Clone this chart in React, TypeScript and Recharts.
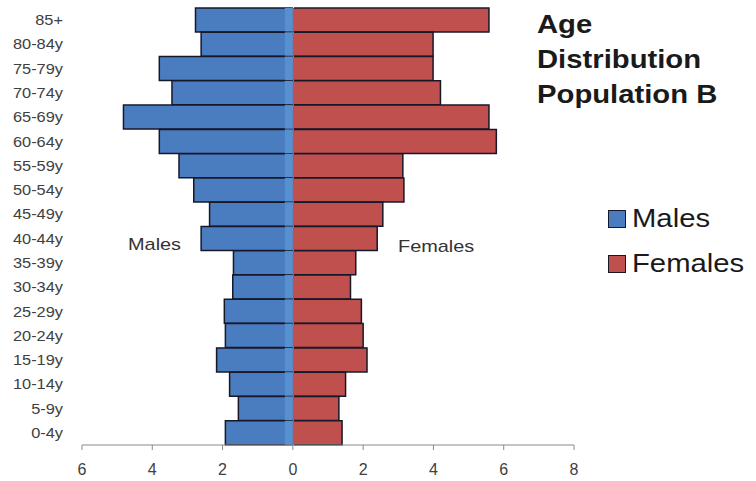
import React from 'react'
import { Bar, BarChart, Legend, XAxis, YAxis } from 'recharts'

const AGE_GROUPS = [
  '85+', '80-84y', '75-79y', '70-74y', '65-69y', '60-64y', '55-59y', '50-54y', '45-49y',
  '40-44y', '35-39y', '30-34y', '25-29y', '20-24y', '15-19y', '10-14y', '5-9y', '0-4y',
]
const MALES = [2.77, 2.61, 3.8, 3.44, 4.82, 3.8, 3.24, 2.82, 2.37, 2.61, 1.69, 1.71, 1.95, 1.92, 2.17, 1.8, 1.55, 1.92]
const FEMALES = [5.58, 3.99, 3.99, 4.2, 5.58, 5.79, 3.13, 3.16, 2.56, 2.4, 1.79, 1.64, 1.95, 2.0, 2.11, 1.5, 1.31, 1.4]
const X_TICKS = [-6, -4, -2, 0, 2, 4, 6, 8]
const SERIES_NAMES = ['Males', 'Females']
const TITLE_LINES = ['Age', 'Distribution', 'Population B']

const BLUE = '#4a7dbf'
const STRIP = '#5690d0'
const RED = '#c0504d'
const EDGE = '#17172a'
const FONT = '"Liberation Sans", Arial, sans-serif'
const STRETCH = 1.17

const data = AGE_GROUPS.map((age, i) => ({ age, males: -MALES[i], females: FEMALES[i] }))

function box(p: any) {
  const left = Math.min(p.x, p.x + p.width)
  const top = Math.min(p.y, p.y + p.height)
  return { left, top, right: left + Math.abs(p.width), bottom: top + Math.abs(p.height) }
}

function MaleBar(props: any) {
  const { left, top, right, bottom } = box(props)
  return (
    <g>
      <rect x={left} y={top} width={right - left} height={bottom - top} fill={BLUE} />
      <path d={`M${right},${top}H${left}V${bottom}H${right}`} fill="none" stroke={EDGE} strokeWidth={1.5} />
      <rect x={right - 8} y={top} width={8} height={bottom - top} fill={STRIP} />
    </g>
  )
}

function FemaleBar(props: any) {
  const { left, top, right, bottom } = box(props)
  return (
    <g>
      <rect x={left} y={top} width={right - left} height={bottom - top} fill={RED} />
      <path d={`M${left + 1},${top}H${right}V${bottom}H${left + 1}`} fill="none" stroke={EDGE} strokeWidth={1.5} />
    </g>
  )
}

function AgeTick({ x, y, payload }: any) {
  return (
    <text
      x={x}
      y={y}
      textAnchor="end"
      dominantBaseline="central"
      fontSize={14}
      fontFamily={FONT}
      fill="#404040"
      transform={`translate(${x} ${y}) scale(${STRETCH} 1) translate(${-x} ${-y})`}
    >
      {payload.value}
    </text>
  )
}

function LegendBox({ payload }: any) {
  const items = [...(payload || [])].sort(
    (a: any, b: any) => SERIES_NAMES.indexOf(a.value) - SERIES_NAMES.indexOf(b.value),
  )
  return (
    <div>
      {items.map((entry: any) => (
        <div key={entry.value} style={{ display: 'flex', alignItems: 'center', height: 45 }}>
          <span
            style={{
              display: 'inline-block',
              width: 16,
              height: 16,
              background: entry.color,
              border: `1px solid ${EDGE}`,
              marginRight: 6,
            }}
          />
          <span
            style={{
              display: 'inline-block',
              fontFamily: FONT,
              fontSize: 25,
              lineHeight: '45px',
              color: '#1a1a1a',
              transform: `scaleX(${STRETCH})`,
              transformOrigin: 'left center',
              whiteSpace: 'nowrap',
            }}
          >
            {entry.value}
          </span>
        </div>
      ))}
    </div>
  )
}

function Note({ text, left, top }: { text: string; left: number; top: number }) {
  return (
    <div
      style={{
        position: 'absolute',
        left,
        top,
        fontFamily: FONT,
        fontSize: 17,
        lineHeight: '20px',
        color: '#333',
        transform: `scaleX(${STRETCH})`,
        transformOrigin: 'left top',
        whiteSpace: 'nowrap',
      }}
    >
      {text}
    </div>
  )
}

export default function App() {
  return (
    <div style={{ position: 'absolute', left: 0, top: 0, width: 756, height: 481, background: '#fff' }}>
      <BarChart
        width={756}
        height={481}
        data={data}
        layout="vertical"
        stackOffset="sign"
        barCategoryGap={0}
        barGap={0}
        margin={{ top: 8, right: 182, bottom: 0, left: 0 }}
      >
        <XAxis
          type="number"
          domain={[-6, 8]}
          ticks={X_TICKS}
          tickFormatter={(v: number) => String(Math.abs(v))}
          height={36}
          stroke="#8a8a8a"
          tickSize={5}
          tickMargin={14}
          tick={{ fill: '#404040', fontSize: 16, fontFamily: FONT }}
        />
        <YAxis
          type="category"
          dataKey="age"
          width={82}
          interval={0}
          axisLine={false}
          tickLine={false}
          tickSize={0}
          tickMargin={19}
          tick={<AgeTick />}
        />
        <Legend
          layout="vertical"
          align="center"
          verticalAlign="middle"
          content={<LegendBox />}
          wrapperStyle={{ left: 608, top: 196, width: 150 }}
        />
        <Bar dataKey="males" name="Males" stackId="p" fill={BLUE} shape={<MaleBar />} isAnimationActive={false} />
        <Bar dataKey="females" name="Females" stackId="p" fill={RED} shape={<FemaleBar />} isAnimationActive={false} />
      </BarChart>
      <div
        style={{
          position: 'absolute',
          left: 537,
          top: 7,
          fontFamily: FONT,
          fontWeight: 'bold',
          fontSize: 25,
          lineHeight: '35px',
          color: '#1a1a1a',
          transform: `scaleX(${STRETCH})`,
          transformOrigin: 'left top',
          whiteSpace: 'nowrap',
        }}
      >
        {TITLE_LINES.map((line) => (
          <div key={line}>{line}</div>
        ))}
      </div>
      <Note text="Males" left={128} top={235} />
      <Note text="Females" left={398} top={237} />
    </div>
  )
}
